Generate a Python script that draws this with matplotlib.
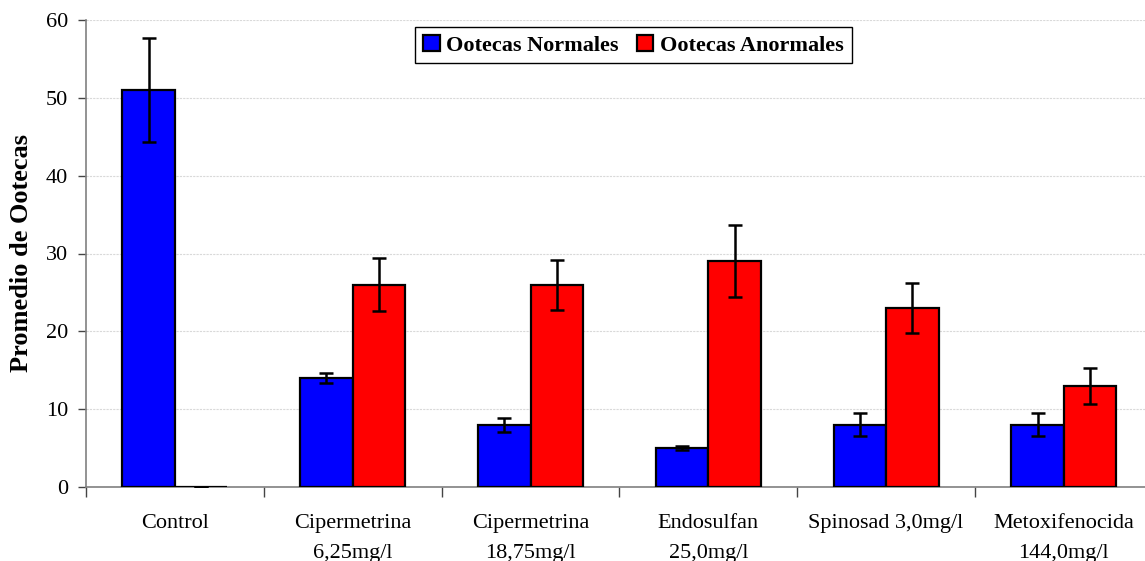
import matplotlib.pyplot as plt
import numpy as np

# datos
categorias = ["Control", "Cipermetrina\n6,25mg/l", "Cipermetrina\n18,75mg/l",
              "Endosulfan\n25,0mg/l", "Spinosad 3,0mg/l", "Metoxifenocida\n144,0mg/l"]
normales = [51, 14, 8, 5, 8, 8]
normales_err = [6.7, 0.65, 0.9, 0.3, 1.5, 1.5]
anormales = [0, 26, 26, 29, 23, 13]
anormales_err = [0, 3.4, 3.2, 4.65, 3.2, 2.3]

plt.rcParams['font.family'] = ['Liberation Serif', 'DejaVu Serif']

fig = plt.figure(figsize=(11.45, 5.61), dpi=100)
W, H = 1145, 561
axw = 6 * 177.8
ax = fig.add_axes([86 / W, 1 - 487 / H, axw / W, (487 - 20) / H])

x = np.arange(len(categorias))
w = 0.295
errkw = dict(ecolor='black', elinewidth=1.8, capsize=5, capthick=1.8)
ax.bar(x - w / 2, normales, w, yerr=normales_err, color='#0000ff', edgecolor='black',
       linewidth=1.6, error_kw=errkw, label='Ootecas Normales', zorder=3)
ax.bar(x + w / 2, anormales, w, yerr=anormales_err,
       color='#ff0000', edgecolor='black', linewidth=1.6, error_kw=errkw,
       label='Ootecas Anormales', zorder=3)

ax.set_xlim(-0.5, len(categorias) - 0.5)
ax.set_ylim(0, 60)
ax.set_yticks(range(0, 61, 10))
ax.yaxis.grid(True, color='#d9d9d9', linestyle=(0, (2, 1)), linewidth=0.8, zorder=0)

ax.set_xticks(np.arange(-0.5, len(categorias), 1))
ax.set_xticklabels([])
ax.set_xticks(x, minor=True)
ax.set_xticklabels(categorias, minor=True, fontsize=16, linespacing=1.75)
ax.tick_params(axis='x', which='minor', length=0, pad=19.5)
ax.tick_params(axis='x', which='major', length=7, color='#444444', width=1)
ax.tick_params(axis='y', length=6, color='#444444', width=1, labelsize=16, pad=7)

for s in ['top', 'right']:
    ax.spines[s].set_visible(False)
ax.spines['left'].set_color('#808080')
ax.spines['bottom'].set_color('#808080')
ax.spines['left'].set_linewidth(1.2)
ax.spines['bottom'].set_linewidth(1.2)

ax.set_ylabel('Promedio de Ootecas', fontsize=19, fontweight='bold', labelpad=9)

leg = ax.legend(loc='upper center', bbox_to_anchor=(547.5 / axw, 0.985), ncol=2,
                fancybox=False, edgecolor='black', framealpha=1,
                prop={'weight': 'bold', 'size': 16}, handlelength=0.75, handleheight=0.75,
                handletextpad=0.3, columnspacing=0.8, borderpad=0.35, borderaxespad=0)
leg.get_frame().set_linewidth(1.0)

fig.savefig('out.png', dpi=100)
